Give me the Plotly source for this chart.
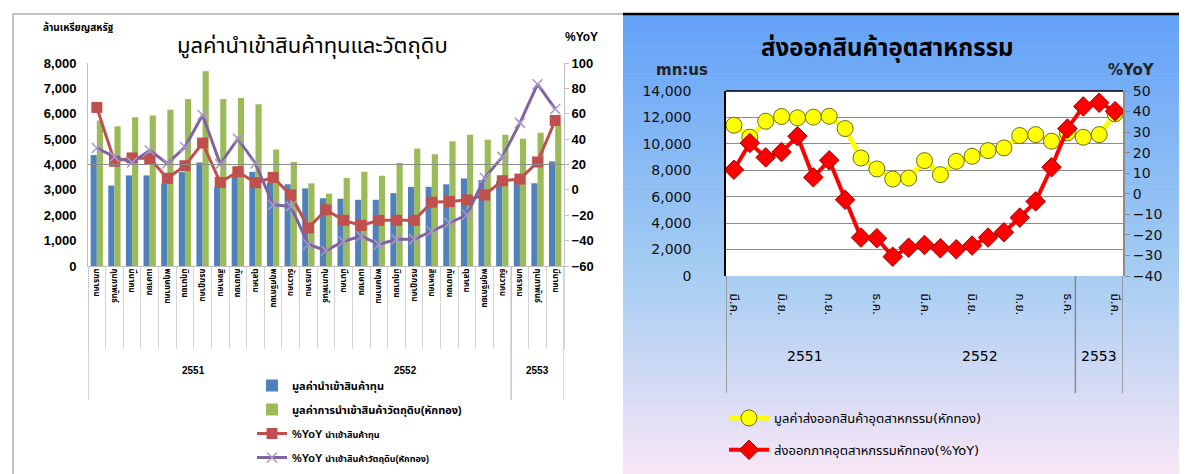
import plotly.graph_objects as go

W, H = 1187, 474

# ---------------- left chart: imports (million USD, %YoY) ----------------
imp_years = ["2551"] * 12 + ["2552"] * 12 + ["2553"] * 3
imp_months = [
    "มกราคม", "กุมภาพันธ์", "มีนาคม", "เมษายน", "พฤษภาคม", "มิถุนายน",
    "กรกฎาคม", "สิงหาคม", "กันยายน", "ตุลาคม", "พฤศจิกายน", "ธันวาคม",
    "มกราคม", "กุมภาพันธ์", "มีนาคม", "เมษายน", "พฤษภาคม", "มิถุนายน",
    "กรกฎาคม", "สิงหาคม", "กันยายน", "ตุลาคม", "พฤศจิกายน", "ธันวาคม",
    "มกราคม", "กุมภาพันธ์", "มีนาคม",
]
capital_val = [4370, 3170, 3570, 3570, 3250, 3700, 4080, 3100, 3520, 3710, 3280, 3220, 3060,
               2670, 2650, 2610, 2610, 2870, 3120, 3120, 3220, 3450, 3390, 3350, 3450, 3260, 4120]
raw_val = [5730, 5510, 5860, 5930, 6160, 6580, 7675, 6580, 6620, 6370, 4590, 4100, 3257,
           2850, 3470, 3713, 3557, 4065, 4625, 4404, 4912, 5173, 4977, 5173, 5016, 5250, 5550]
capital_yoy = [65, 22.6, 25.2, 24.7, 9.1, 19, 36.9, 5.9, 14.3, 5.7, 9.8, -4, -30,
               -15.7, -24, -28, -24, -24, -24, -9.7, -9.2, -7.9, -4, 7.2, 8.5, 22, 54.7]
raw_yoy = [33, 26, 21.6, 31.2, 20.8, 33.8, 59, 20.3, 40.3, 20.8, -11.8, -13, -43,
           -47.8, -40.5, -36.5, -43, -39, -39, -32.6, -26, -19.6, 9.6, 26, 52.8, 83.3, 63.8]

# ---------------- right chart: industrial exports ----------------
exp_years = ["2551"] * 10 + ["2552"] * 12 + ["2553"] * 3
exp_months = [
    "มี.ค.", "เม.ย.", "พ.ค.", "มิ.ย.", "ก.ค.", "ส.ค.", "ก.ย.", "ต.ค.", "พ.ย.", "ธ.ค.",
    "ม.ค.", "ก.พ.", "มี.ค.", "เม.ย.", "พ.ค.", "มิ.ย.", "ก.ค.", "ส.ค.", "ก.ย.", "ต.ค.", "พ.ย.", "ธ.ค.",
    "ม.ค.", "ก.พ.", "มี.ค.",
]
export_val = [11410, 10500, 11710, 12070, 11970, 12020, 12090, 11160, 8930, 8100, 7340, 7410, 8730,
              7670, 8680, 9060, 9490, 9690, 10630, 10700, 10200, 10830, 10500, 10700, 12270]
export_yoy = [11.7, 24.7, 17.7, 20.3, 28, 8, 16.3, -2.9, -21.3, -21.6, -30.6, -26.2, -24.9,
              -26.5, -27, -25.2, -21.3, -18.7, -11.6, -3.7, 12.9, 31.7, 42.5, 44.3, 40.2]

THAI = "Liberation Sans, Noto Sans Thai, Noto Sans, sans-serif"
THIN = "DejaVu Sans, Noto Sans Thai, sans-serif"


def px(x):
    return x / W


def py(y):
    return 1 - y / H


def groups(years):
    # (year, first index, last index)
    out = []
    for i, y in enumerate(years):
        if out and out[-1][0] == y:
            out[-1][2] = i
        else:
            out.append([y, i, i])
    return out


xi = list(range(len(imp_months)))
xe = list(range(len(exp_months)))

fig = go.Figure()

# left chart traces
fig.add_trace(go.Bar(x=xi, y=capital_val, name="มูลค่านำเข้าสินค้าทุน",
                     marker_color="#4f81bd", legend="legend", legendgroup="a"))
fig.add_trace(go.Bar(x=xi, y=raw_val, name="มูลค่าการนำเข้าสินค้าวัตถุดิบ(หักทอง)",
                     marker_color="#9bbb59", legend="legend", legendgroup="b"))
fig.add_trace(go.Scatter(x=xi, y=capital_yoy, yaxis="y2", mode="lines+markers",
                         name="<b>%YoY</b> <span style='font-size:9px'>นำเข้าสินค้าทุน</span>",
                         line=dict(color="#c0504d", width=3),
                         marker=dict(symbol="square", size=11, color="#c0504d"),
                         legend="legend", legendgroup="c"))
fig.add_trace(go.Scatter(x=xi, y=raw_yoy, yaxis="y2", mode="lines+markers",
                         name="<b>%YoY</b> <span style='font-size:9px'>นำเข้าสินค้าวัตถุดิบ(หักทอง)</span>",
                         line=dict(color="#8064a2", width=3),
                         marker=dict(symbol="x-thin", size=10, line=dict(color="#a898c8", width=1.5)),
                         legend="legend", legendgroup="d"))
# invisible trace so the boundary-tick overlay axis is drawn
fig.add_trace(go.Scatter(x=[], y=[], xaxis="x3", showlegend=False, hoverinfo="skip"))

# right chart traces
fig.add_trace(go.Scatter(x=xe, y=export_val, xaxis="x2", yaxis="y3", mode="lines+markers",
                         name="มูลค่าส่งออกสินค้าอุตสาหกรรม(หักทอง)",
                         line=dict(color="#ffff00", width=5),
                         marker=dict(symbol="circle", size=16, color="#ffff00",
                                     line=dict(color="#6b6b1a", width=1)),
                         legend="legend2", legendgroup="e"))
fig.add_trace(go.Scatter(x=xe, y=export_yoy, xaxis="x2", yaxis="y4", mode="lines+markers",
                         name="ส่งออกภาคอุตสาหกรรมหักทอง(%YoY)",
                         line=dict(color="#ff0000", width=4),
                         marker=dict(symbol="diamond", size=15, color="#ff0000",
                                     line=dict(color="#a00000", width=1)),
                         legend="legend2", legendgroup="f"))

shapes = []
# left panel frame (right edge hidden under the right panel)
shapes.append(dict(type="rect", xref="paper", yref="paper", x0=px(5), x1=px(630),
                   y0=py(471), y1=py(6), line=dict(color="#b0b0b0", width=1.5), layer="below"))
# right panel gradient background
top, bot = 7, H
c0, c1, c2 = (100, 162, 248), (165, 205, 242), (249, 231, 246)
n = 60
for k in range(n):
    t = k / (n - 1)
    if t < 0.55:
        u = t / 0.55
        c = [round(a + (b - a) * u) for a, b in zip(c0, c1)]
    else:
        u = (t - 0.55) / 0.45
        c = [round(a + (b - a) * u) for a, b in zip(c1, c2)]
    ya = top + (bot - top) * k / n
    yb = top + (bot - top) * (k + 1) / n + 0.6
    shapes.append(dict(type="rect", xref="paper", yref="paper", x0=px(615), x1=1,
                       y0=py(yb), y1=py(ya), fillcolor="rgb(%d,%d,%d)" % tuple(c),
                       line=dict(width=0), layer="below"))
# white plot area of right chart
shapes.append(dict(type="rect", xref="paper", yref="paper", x0=px(718), x1=px(1115),
                   y0=py(268), y1=py(83), fillcolor="white", line=dict(width=0), layer="below"))
shapes.append(dict(type="line", xref="paper", yref="paper", x0=px(718), x1=px(1115),
                   y0=py(83), y1=py(83), line=dict(color="black", width=1.5)))
shapes.append(dict(type="line", xref="paper", yref="paper", x0=px(615), x1=1,
                   y0=py(6), y1=py(6), line=dict(color="black", width=2.5)))
# single gridline in left chart
shapes.append(dict(type="line", xref="x domain", yref="y", x0=0, x1=1, y0=4000, y1=4000,
                   line=dict(color="#8c8c8c", width=1)))

annotations = []
# year dividers and labels
for gl, xr, y0, y1, yl, col, fs in [
    (groups(imp_years), "x", 258, 392, 370, "#c8c8c8", 10),
    (groups(exp_years), "x2", 268, 385, 358, "#8a8a8a", 14),
]:
    edges = [gl[0][1] - 0.5, gl[-1][1] - 0.5, gl[-1][2] + 0.5]
    for e in edges:
        shapes.append(dict(type="line", xref=xr, yref="paper", x0=e, x1=e,
                           y0=py(y1), y1=py(y0), line=dict(color=col, width=1.5)))
    for yr, a, b in gl:
        annotations.append(dict(x=(a + b) / 2, y=py(yl), xref=xr, yref="paper", text=yr,
                                showarrow=False,
                                font=dict(size=fs, color="black",
                                          family=THAI if xr == "x" else THIN,
                                          weight="bold" if xr == "x" else "normal")))


def label(x, y, text, size, color="black", family=THAI):
    return dict(x=px(x), y=py(y), xref="paper", yref="paper", text=text, showarrow=False,
                xanchor="center", yanchor="middle", font=dict(size=size, color=color, family=family))


annotations += [
    label(305, 38, "มูลค่านำเข้าสินค้าทุนและวัตถุดิบ", 22),
    label(70, 19, "<b>ล้านเหรียญสหรัฐ</b>", 10),
    label(573, 29, "<b>%YoY</b>", 12),
    label(879, 41, "<b>ส่งออกสินค้าอุตสาหกรรม</b>", 24),
    label(674, 62, "<b>mn:us</b>", 15, "#222", THIN),
    label(1123, 62, "<b>%YoY</b>", 15, "#222", THIN),
]

fig.update_layout(
    template="none",
    width=W, height=H,
    margin=dict(l=0, r=0, t=0, b=0, autoexpand=False),
    paper_bgcolor="white", plot_bgcolor="white",
    font=dict(family=THAI, color="black"),
    barmode="group", bargap=0.3, bargroupgap=0.0,
    showlegend=True,
    shapes=shapes, annotations=annotations,
    xaxis=dict(domain=[px(80), px(556)], anchor="y", range=[-0.5, len(xi) - 0.5],
               automargin=False,
               tickvals=xi, ticktext=imp_months, tickangle=90, ticks="",
               tickfont=dict(size=8, weight="bold"), showgrid=False, zeroline=False,
               showline=True, linecolor="#bfbfbf", linewidth=1),
    xaxis3=dict(domain=[px(80), px(556)], anchor="y", overlaying="x",
                range=[-0.5, len(xi) - 0.5], automargin=False,
                tickvals=[i - 0.5 for i in xi] + [len(xi) - 0.5],
                ticks="outside", ticklen=82, tickcolor="#d4d4d4", tickwidth=1,
                showticklabels=False, showgrid=False, zeroline=False),
    yaxis=dict(domain=[py(258), py(55)], anchor="x", range=[0, 8000], dtick=1000,
               automargin=False,
               tickformat=",", showgrid=False, zeroline=False,
               showline=True, linecolor="#bfbfbf", ticks="outside", ticklen=8,
               tickcolor="rgba(0,0,0,0)", tickfont=dict(size=13, weight="bold")),
    yaxis2=dict(overlaying="y", side="right", anchor="x", range=[-60, 100], dtick=20,
                automargin=False,
                showgrid=False, zeroline=False, showline=True, linecolor="#bfbfbf",
                ticks="outside", ticklen=4, tickcolor="#bfbfbf",
                tickfont=dict(size=13, weight="bold")),
    xaxis2=dict(domain=[px(718), px(1115)], anchor="y3", range=[-0.5, len(xe) - 0.5],
                automargin=False,
                tickvals=xe[::3], ticktext=exp_months[::3], tickangle=90,
                ticks="outside", ticklen=14, tickcolor="rgba(0,0,0,0)",
                tickfont=dict(size=12, family=THIN),
                showgrid=False, zeroline=False, showline=False),
    yaxis3=dict(domain=[py(268), py(83)], anchor="x2", range=[0, 14000], dtick=2000,
                automargin=False,
                tickformat=",", showgrid=True, gridcolor="#8c8c8c", gridwidth=1,
                zeroline=False, showline=True, linecolor="black", linewidth=1.5,
                ticks="outside", ticklen=30, tickcolor="rgba(0,0,0,0)",
                tickfont=dict(size=14, family=THIN, color="#111")),
    yaxis4=dict(overlaying="y3", side="right", anchor="x2", range=[-40, 50], dtick=10,
                automargin=False,
                showgrid=False, zeroline=False, showline=True, linecolor="#8c8c8c",
                linewidth=2, ticks="outside", ticklen=5, tickcolor="#8c8c8c",
                tickfont=dict(size=14, family=THIN, color="#111")),
    legend=dict(x=px(244), y=py(363), xanchor="left", yanchor="top",
                bgcolor="rgba(0,0,0,0)", font=dict(size=11, weight="bold"),
                tracegroupgap=5, itemwidth=30),
    legend2=dict(x=px(716), y=py(395), xanchor="left", yanchor="top",
                 bgcolor="rgba(0,0,0,0)", font=dict(size=13, family=THIN),
                 tracegroupgap=12, itemwidth=40),
)

fig.write_html("out.html")
